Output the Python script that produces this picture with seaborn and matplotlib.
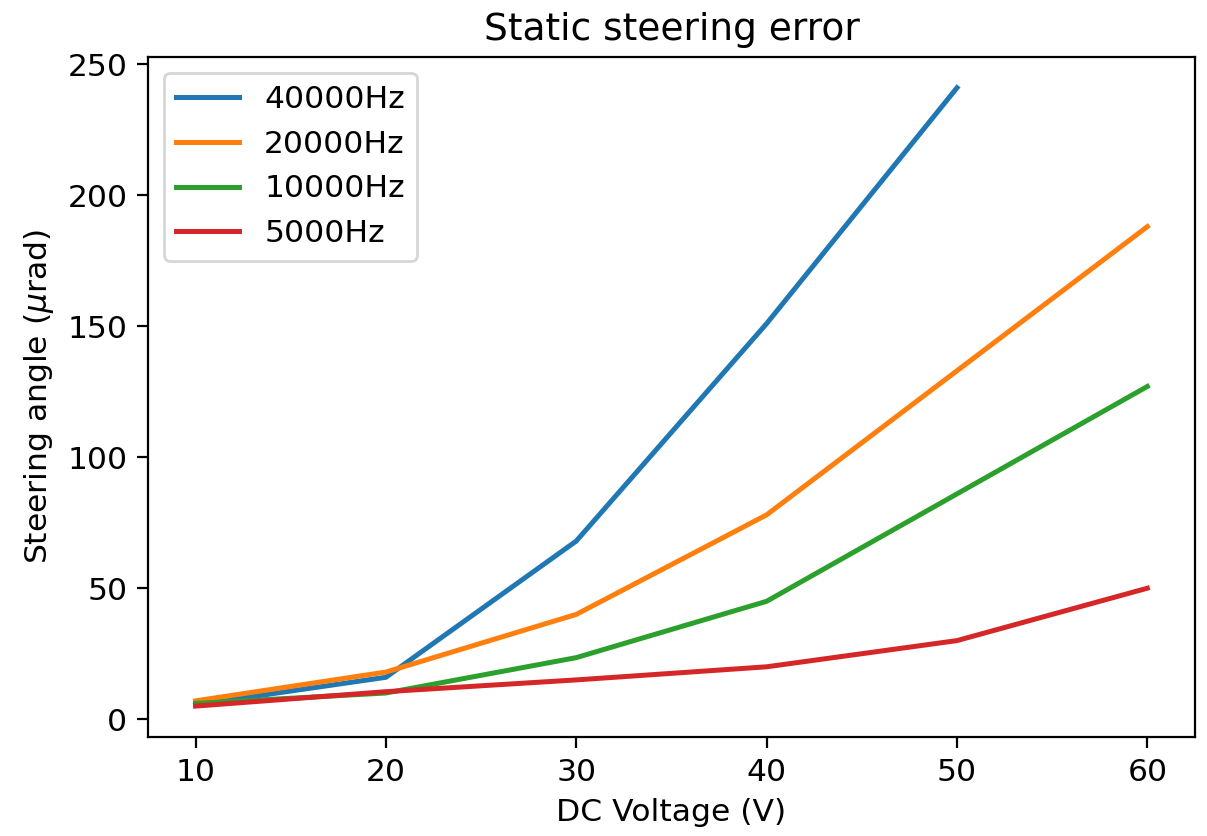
import numpy as np
import pandas as pd
import matplotlib
matplotlib.use("Agg")
import matplotlib.pyplot as plt
import seaborn as sns

voltage = [10, 20, 30, 40, 50, 60]
series_labels = ["40000Hz", "20000Hz", "10000Hz", "5000Hz"]
angle_40000 = [5.5, 16, 68, 151, 241, np.nan]
angle_20000 = [7, 18, 40, 78, 133, 188]
angle_10000 = [6, 10, 23.5, 45, 86, 127]
angle_5000 = [5, 10.5, 15, 20, 30, 50]
colors = ["#1f77b4", "#ff7f0e", "#2ca02c", "#d62728"]

plt.rcParams["font.size"] = 11.3
plt.rcParams["xtick.major.size"] = 3.9
plt.rcParams["ytick.major.size"] = 3.9

frames = []
for label, vals in zip(series_labels, [angle_40000, angle_20000, angle_10000, angle_5000]):
    frames.append(pd.DataFrame({"voltage": voltage, "angle": vals, "freq": label}))
df = pd.concat(frames, ignore_index=True).dropna()

fig = plt.figure(figsize=(1207 / 200, 836 / 200), dpi=200)
ax = fig.add_subplot(111)
fig.subplots_adjust(left=0.1226, right=0.990, top=0.932, bottom=0.1184)

sns.lineplot(data=df, x="voltage", y="angle", hue="freq", hue_order=series_labels,
             palette=colors, linewidth=1.8, ax=ax, sort=False)

ax.set_title("Static steering error", fontsize=13.5)
ax.set_xlabel("DC Voltage (V)")
ax.set_ylabel(r"Steering angle ($\mu$rad)")
ax.set_yticks([0, 50, 100, 150, 200, 250])
ax.set_xticks(voltage)
ax.legend(loc="upper left")

fig.savefig("out.png", dpi=200)
